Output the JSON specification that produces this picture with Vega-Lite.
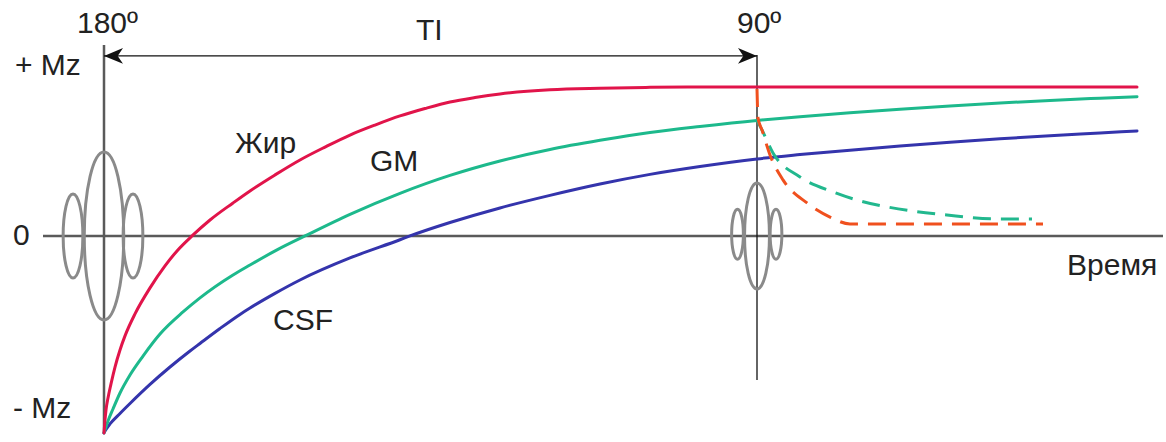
{
  "$schema": "https://vega.github.io/schema/vega-lite/v6.json",
  "width": 1166,
  "height": 442,
  "autosize": {"type": "fit", "contains": "padding"},
  "padding": 0,
  "background": "white",
  "config": {"view": {"stroke": null}},
  "datasets": {
    "fat": [
      {"t": 0, "m": -1.145}, {"t": 1, "m": -1.07}, {"t": 2, "m": -1.012}, {"t": 4, "m": -0.942},
      {"t": 7, "m": -0.86}, {"t": 11, "m": -0.762}, {"t": 16, "m": -0.663}, {"t": 21, "m": -0.581},
      {"t": 31, "m": -0.453}, {"t": 46, "m": -0.302}, {"t": 61, "m": -0.174}, {"t": 73, "m": -0.087},
      {"t": 88, "m": 0}, {"t": 106, "m": 0.093}, {"t": 129, "m": 0.192}, {"t": 146, "m": 0.262},
      {"t": 171, "m": 0.355}, {"t": 196, "m": 0.442}, {"t": 221, "m": 0.517}, {"t": 246, "m": 0.587},
      {"t": 271, "m": 0.645}, {"t": 296, "m": 0.698}, {"t": 321, "m": 0.741}, {"t": 346, "m": 0.779},
      {"t": 371, "m": 0.805}, {"t": 396, "m": 0.826}, {"t": 446, "m": 0.85}, {"t": 496, "m": 0.859},
      {"t": 546, "m": 0.864}, {"t": 596, "m": 0.866}, {"t": 653, "m": 0.866}, {"t": 1033, "m": 0.866}
    ],
    "gm": [
      {"t": 0, "m": -1.145}, {"t": 2, "m": -1.11}, {"t": 4, "m": -1.076}, {"t": 9, "m": -1.006},
      {"t": 16, "m": -0.913}, {"t": 26, "m": -0.808}, {"t": 39, "m": -0.698}, {"t": 56, "m": -0.57},
      {"t": 79, "m": -0.442}, {"t": 96, "m": -0.36}, {"t": 129, "m": -0.227}, {"t": 146, "m": -0.169},
      {"t": 173, "m": -0.081}, {"t": 201, "m": 0}, {"t": 246, "m": 0.126}, {"t": 296, "m": 0.248},
      {"t": 346, "m": 0.352}, {"t": 396, "m": 0.436}, {"t": 446, "m": 0.503}, {"t": 496, "m": 0.556},
      {"t": 546, "m": 0.602}, {"t": 596, "m": 0.637}, {"t": 653, "m": 0.672}, {"t": 696, "m": 0.693},
      {"t": 746, "m": 0.716}, {"t": 796, "m": 0.737}, {"t": 846, "m": 0.756}, {"t": 896, "m": 0.773},
      {"t": 946, "m": 0.788}, {"t": 996, "m": 0.801}, {"t": 1033, "m": 0.81}
    ],
    "csf": [
      {"t": 0, "m": -1.145}, {"t": 2, "m": -1.125}, {"t": 6, "m": -1.093}, {"t": 16, "m": -1.032},
      {"t": 26, "m": -0.974}, {"t": 46, "m": -0.863}, {"t": 66, "m": -0.762}, {"t": 86, "m": -0.669},
      {"t": 96, "m": -0.625}, {"t": 116, "m": -0.538}, {"t": 136, "m": -0.456}, {"t": 146, "m": -0.419},
      {"t": 171, "m": -0.334}, {"t": 196, "m": -0.256}, {"t": 246, "m": -0.128}, {"t": 296, "m": -0.022},
      {"t": 306, "m": 0}, {"t": 346, "m": 0.078}, {"t": 396, "m": 0.163}, {"t": 446, "m": 0.236},
      {"t": 496, "m": 0.302}, {"t": 546, "m": 0.358}, {"t": 596, "m": 0.404}, {"t": 653, "m": 0.448},
      {"t": 696, "m": 0.473}, {"t": 746, "m": 0.499}, {"t": 796, "m": 0.523}, {"t": 846, "m": 0.545},
      {"t": 896, "m": 0.565}, {"t": 946, "m": 0.583}, {"t": 996, "m": 0.599}, {"t": 1033, "m": 0.611}
    ],
    "fatAfter": [
      {"t": 653, "m": 0.855}, {"t": 654, "m": 0.686}, {"t": 658, "m": 0.616}, {"t": 666, "m": 0.471},
      {"t": 679, "m": 0.326}, {"t": 703, "m": 0.192}, {"t": 726, "m": 0.11}, {"t": 746, "m": 0.07},
      {"t": 776, "m": 0.07}, {"t": 939, "m": 0.07}
    ],
    "gmAfter": [
      {"t": 653, "m": 0.672}, {"t": 658, "m": 0.616}, {"t": 669, "m": 0.483}, {"t": 696, "m": 0.343},
      {"t": 729, "m": 0.256}, {"t": 753, "m": 0.209}, {"t": 783, "m": 0.169}, {"t": 843, "m": 0.122},
      {"t": 893, "m": 0.099}, {"t": 928, "m": 0.099}
    ],
    "rules": [
      {"name": "zero", "t": -61, "t2": 1059, "m": 0, "m2": 0},
      {"name": "inv", "t": 0, "t2": 0, "m": 1.11, "m2": -1.14}
    ],
    "thin": [
      {"name": "read", "t": 653, "t2": 653, "m": 1.052, "m2": -0.837},
      {"name": "TI", "t": 0, "t2": 653, "m": 1.047, "m2": 1.047}
    ],
    "labels": [
      {"t": -27, "m": 1.18, "label": "180º"},
      {"t": 312, "m": 1.14, "label": "TI"},
      {"t": 633, "m": 1.18, "label": "90º"},
      {"t": -89, "m": 0.936, "label": "+ Mz"},
      {"t": -91, "m": -0.052, "label": "0"},
      {"t": -91, "m": -1.058, "label": "- Mz"},
      {"t": 963, "m": -0.227, "label": "Время"},
      {"t": 131, "m": 0.483, "label": "Жир"},
      {"t": 266, "m": 0.378, "label": "GM"},
      {"t": 169, "m": -0.547, "label": "CSF"}
    ]
  },
  "layer": [
    {
      "data": {"name": "rules"},
      "mark": {"type": "rule", "color": "#5a5a5a", "strokeWidth": 2.5},
      "encoding": {
        "x": {"field": "t", "type": "quantitative", "scale": {"domain": [-104, 1062], "nice": false, "zero": false}, "axis": null},
        "x2": {"field": "t2"},
        "y": {"field": "m", "type": "quantitative", "scale": {"domain": [-1.198, 1.372], "nice": false, "zero": false}, "axis": null},
        "y2": {"field": "m2"}
      }
    },
    {
      "data": {"name": "thin"},
      "mark": {"type": "rule", "color": "#111111", "strokeWidth": 1.3},
      "encoding": {
        "x": {"field": "t", "type": "quantitative"},
        "x2": {"field": "t2"},
        "y": {"field": "m", "type": "quantitative"},
        "y2": {"field": "m2"}
      }
    },
    {
      "data": {"values": [{"t": 0, "m": 1.047}]},
      "mark": {"type": "point", "shape": "M0,0 L1,-0.42 L0.72,0 L1,0.42 Z", "filled": true, "color": "#111111", "opacity": 1, "size": 1444},
      "encoding": {"x": {"field": "t", "type": "quantitative"}, "y": {"field": "m", "type": "quantitative"}}
    },
    {
      "data": {"values": [{"t": 653, "m": 1.047}]},
      "mark": {"type": "point", "shape": "M0,0 L-1,-0.42 L-0.72,0 L-1,0.42 Z", "filled": true, "color": "#111111", "opacity": 1, "size": 1444},
      "encoding": {"x": {"field": "t", "type": "quantitative"}, "y": {"field": "m", "type": "quantitative"}}
    },
    {
      "data": {"values": [{"t": 0, "m": 0}]},
      "mark": {"type": "point", "shape": "M0,-1 C0.13,-1 0.235,-0.5523 0.235,0 C0.235,0.5523 0.13,1 0,1 C-0.13,1 -0.235,0.5523 -0.235,0 C-0.235,-0.5523 -0.13,-1 0,-1 Z", "filled": false, "color": "#8a8a8a", "strokeWidth": 3, "opacity": 1, "size": 28224},
      "encoding": {"x": {"field": "t", "type": "quantitative"}, "y": {"field": "m", "type": "quantitative"}}
    },
    {
      "data": {"values": [{"t": -31, "m": 0}, {"t": 29, "m": 0}]},
      "mark": {"type": "point", "shape": "M0,-1 C0.13,-1 0.235,-0.5523 0.235,0 C0.235,0.5523 0.13,1 0,1 C-0.13,1 -0.235,0.5523 -0.235,0 C-0.235,-0.5523 -0.13,-1 0,-1 Z", "filled": false, "color": "#8a8a8a", "strokeWidth": 3, "opacity": 1, "size": 7056},
      "encoding": {"x": {"field": "t", "type": "quantitative"}, "y": {"field": "m", "type": "quantitative"}}
    },
    {
      "data": {"values": [{"t": 653, "m": 0}]},
      "mark": {"type": "point", "shape": "M0,-1 C0.13,-1 0.235,-0.5523 0.235,0 C0.235,0.5523 0.13,1 0,1 C-0.13,1 -0.235,0.5523 -0.235,0 C-0.235,-0.5523 -0.13,-1 0,-1 Z", "filled": false, "color": "#8a8a8a", "strokeWidth": 3, "opacity": 1, "size": 11236},
      "encoding": {"x": {"field": "t", "type": "quantitative"}, "y": {"field": "m", "type": "quantitative"}}
    },
    {
      "data": {"values": [{"t": 633.5, "m": 0.01}, {"t": 672, "m": 0.01}]},
      "mark": {"type": "point", "shape": "M0,-1 C0.13,-1 0.235,-0.5523 0.235,0 C0.235,0.5523 0.13,1 0,1 C-0.13,1 -0.235,0.5523 -0.235,0 C-0.235,-0.5523 -0.13,-1 0,-1 Z", "filled": false, "color": "#8a8a8a", "strokeWidth": 3, "opacity": 1, "size": 2500},
      "encoding": {"x": {"field": "t", "type": "quantitative"}, "y": {"field": "m", "type": "quantitative"}}
    },
    {
      "data": {"name": "csf"},
      "mark": {"type": "line", "interpolate": "monotone", "strokeWidth": 3, "strokeCap": "round", "color": "#3434AC"},
      "encoding": {"x": {"field": "t", "type": "quantitative"}, "y": {"field": "m", "type": "quantitative"}}
    },
    {
      "data": {"name": "gm"},
      "mark": {"type": "line", "interpolate": "monotone", "strokeWidth": 3, "strokeCap": "round", "color": "#1DB98C"},
      "encoding": {"x": {"field": "t", "type": "quantitative"}, "y": {"field": "m", "type": "quantitative"}}
    },
    {
      "data": {"name": "fat"},
      "mark": {"type": "line", "interpolate": "monotone", "strokeWidth": 3, "strokeCap": "round", "color": "#E1144A"},
      "encoding": {"x": {"field": "t", "type": "quantitative"}, "y": {"field": "m", "type": "quantitative"}}
    },
    {
      "data": {"name": "gmAfter"},
      "mark": {"type": "line", "interpolate": "monotone", "strokeWidth": 3, "strokeDash": [18, 10], "color": "#22B88E"},
      "encoding": {"x": {"field": "t", "type": "quantitative"}, "y": {"field": "m", "type": "quantitative"}, "order": {"value": null}}
    },
    {
      "data": {"name": "fatAfter"},
      "mark": {"type": "line", "interpolate": "monotone", "strokeWidth": 3, "strokeDash": [18, 10], "color": "#F0501E"},
      "encoding": {"x": {"field": "t", "type": "quantitative"}, "y": {"field": "m", "type": "quantitative"}, "order": {"value": null}}
    },
    {
      "data": {"name": "labels"},
      "mark": {"type": "text", "font": "Liberation Sans", "fontSize": 30, "color": "#222222", "align": "left", "baseline": "alphabetic"},
      "encoding": {
        "x": {"field": "t", "type": "quantitative"},
        "y": {"field": "m", "type": "quantitative"},
        "text": {"field": "label"}
      }
    }
  ]
}
